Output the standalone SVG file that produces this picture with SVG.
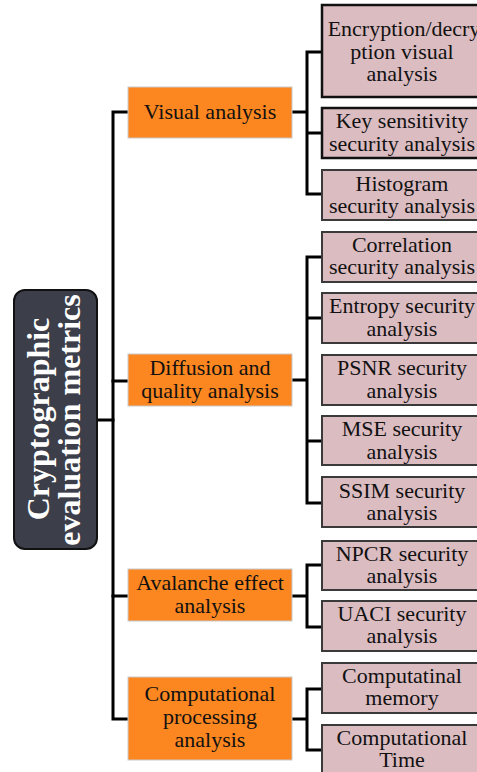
<svg xmlns="http://www.w3.org/2000/svg" width="477" height="772" viewBox="0 0 477 772">
  <style>
    .wire { fill: none; stroke: #000; stroke-width: 3; stroke-linejoin: miter; stroke-linecap: square; }
    .cat { fill: #fc8620; stroke: #c9c9c9; stroke-width: 1; }
    .leaf { fill: #dbbcc1; stroke: #3a3a3a; stroke-width: 2; }
    .leaf.dark { stroke: #111; stroke-width: 2.5; }
    .t { font-family: "Liberation Serif", "Times New Roman", serif; font-size: 22px; fill: #111; text-anchor: middle; }
    .root { font-family: "Liberation Serif", "Times New Roman", serif; font-size: 32px; font-weight: bold; fill: #fff; text-anchor: middle; }
  </style>

  <rect width="477" height="772" fill="#fff"/>

  <!-- connectors -->
  <g id="connectors">
    <path class="wire" d="M97,420 H113"/>
    <path class="wire" d="M128,112 H113 V719 H128"/>
    <path class="wire" d="M113,381 H128 M113,596 H128"/>
    <!-- Visual analysis branch -->
    <path class="wire" d="M292,112 H307 M322,52 H307 V194 H322 M307,133 H322"/>
    <!-- Diffusion branch -->
    <path class="wire" d="M292,380 H307 M322,257 H307 V503 H322 M307,318 H322 M307,441 H322"/>
    <!-- Avalanche branch -->
    <path class="wire" d="M292,596 H307 M322,565 H307 V627 H322"/>
    <!-- Computational branch -->
    <path class="wire" d="M292,719 H307 M322,689 H307 V750 H322"/>
  </g>

  <!-- root -->
  <g id="root">
    <rect x="14" y="290" width="83" height="259" rx="11" fill="#3c3e49" stroke="#111" stroke-width="2"/>
    <text class="root" transform="translate(49,419) rotate(-90)">Cryptographic</text>
    <text class="root" transform="translate(80,420) rotate(-90)">evaluation metrics</text>
  </g>

  <!-- categories -->
  <g id="cat-visual">
    <rect class="cat" x="128" y="87" width="164" height="51"/>
    <text class="t" x="210" y="119">Visual analysis</text>
  </g>
  <g id="cat-diffusion">
    <rect class="cat" x="128" y="354" width="164" height="52"/>
    <text class="t" x="210" y="375">Diffusion and</text>
    <text class="t" x="210" y="398">quality analysis</text>
  </g>
  <g id="cat-avalanche">
    <rect class="cat" x="128" y="569" width="164" height="52"/>
    <text class="t" x="210" y="590">Avalanche effect</text>
    <text class="t" x="210" y="613">analysis</text>
  </g>
  <g id="cat-computational">
    <rect class="cat" x="128" y="677" width="164" height="83"/>
    <text class="t" x="210" y="701">Computational</text>
    <text class="t" x="210" y="724">processing</text>
    <text class="t" x="210" y="747">analysis</text>
  </g>

  <!-- leaves -->
  <g id="leaf-encryption">
    <rect class="leaf dark" x="322" y="5" width="160" height="92"/>
    <text class="t" x="404" y="36">Encryption/decry</text>
    <text class="t" x="402" y="59">ption visual</text>
    <text class="t" x="402" y="81">analysis</text>
  </g>
  <g id="leaf-key">
    <rect class="leaf dark" x="322" y="108" width="160" height="50"/>
    <text class="t" x="402" y="128">Key sensitivity</text>
    <text class="t" x="402" y="151">security analysis</text>
  </g>
  <g id="leaf-histogram">
    <rect class="leaf" x="322" y="170" width="160" height="50"/>
    <text class="t" x="402" y="191">Histogram</text>
    <text class="t" x="402" y="213">security analysis</text>
  </g>
  <g id="leaf-correlation">
    <rect class="leaf" x="322" y="232" width="160" height="50"/>
    <text class="t" x="402" y="252">Correlation</text>
    <text class="t" x="402" y="274">security analysis</text>
  </g>
  <g id="leaf-entropy">
    <rect class="leaf" x="322" y="293" width="160" height="50"/>
    <text class="t" x="402" y="313">Entropy security</text>
    <text class="t" x="402" y="336">analysis</text>
  </g>
  <g id="leaf-psnr">
    <rect class="leaf" x="322" y="355" width="160" height="50"/>
    <text class="t" x="402" y="375">PSNR security</text>
    <text class="t" x="402" y="398">analysis</text>
  </g>
  <g id="leaf-mse">
    <rect class="leaf" x="322" y="416" width="160" height="49"/>
    <text class="t" x="402" y="436">MSE security</text>
    <text class="t" x="402" y="459">analysis</text>
  </g>
  <g id="leaf-ssim">
    <rect class="leaf" x="322" y="477" width="160" height="50"/>
    <text class="t" x="402" y="498">SSIM security</text>
    <text class="t" x="402" y="520">analysis</text>
  </g>
  <g id="leaf-npcr">
    <rect class="leaf" x="322" y="541" width="160" height="49"/>
    <text class="t" x="402" y="561">NPCR security</text>
    <text class="t" x="402" y="583">analysis</text>
  </g>
  <g id="leaf-uaci">
    <rect class="leaf" x="322" y="601" width="160" height="50"/>
    <text class="t" x="402" y="621">UACI security</text>
    <text class="t" x="402" y="643">analysis</text>
  </g>
  <g id="leaf-memory">
    <rect class="leaf" x="322" y="663" width="160" height="50"/>
    <text class="t" x="402" y="683">Computatinal</text>
    <text class="t" x="402" y="705">memory</text>
  </g>
  <g id="leaf-time">
    <rect class="leaf" x="322" y="725" width="160" height="60"/>
    <text class="t" x="402" y="745">Computational</text>
    <text class="t" x="402" y="767">Time</text>
  </g>
</svg>
